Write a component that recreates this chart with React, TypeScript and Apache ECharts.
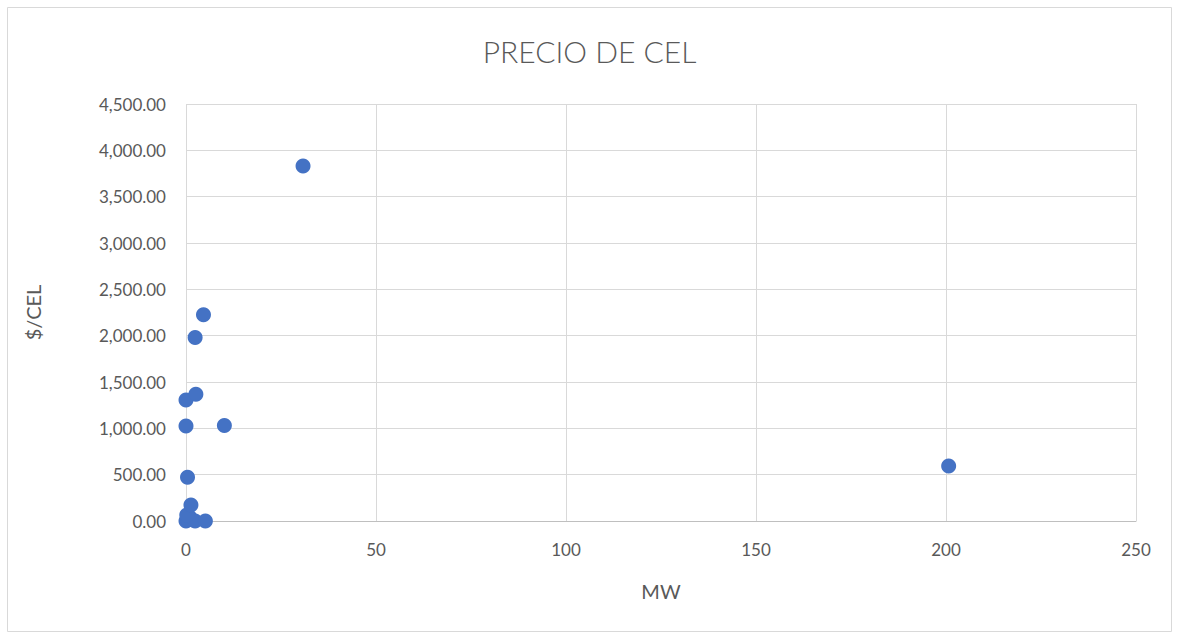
import React, { useEffect, useRef } from "react";
import * as echarts from "echarts";

const mwValues = [0, 0.5, 1.0, 2.4, 5.1, 0.2, 1.3, 0.4, 0, 10.1, 0, 2.6, 2.4, 4.6, 30.8, 200.7];
const priceValues = [0, 15, 40, 0, 0, 65, 173, 472, 1025, 1030, 1306, 1367, 1980, 2225, 3831, 594];
const titleText = "PRECIO DE CEL";
const xName = "MW";
const yName = "$/CEL";

export default function App() {
  const ref = useRef<HTMLDivElement>(null);
  useEffect(() => {
    document.body.style.margin = "0";
    const chart = echarts.init(ref.current!, null, { renderer: "svg" });
    const data = mwValues.map((x, i) => [x, priceValues[i]]);
    const font = "Lato, 'Open Sans', sans-serif";
    chart.setOption({
      animation: false,
      backgroundColor: "#ffffff",
      title: {
        text: titleText,
        left: "center",
        top: 31,
        textStyle: { fontFamily: font, fontSize: 30, fontWeight: 300, color: "#595959" },
      },
      graphic: [
        {
          type: "rect",
          shape: { x: 7.5, y: 7.5, width: 1164, height: 624 },
          style: { fill: "none", stroke: "#d9d9d9", lineWidth: 1 },
          silent: true,
        },
      ],
      grid: { left: 186, right: 43, top: 104, bottom: 117 },
      xAxis: {
        type: "value",
        min: 0,
        max: 250,
        interval: 50,
        name: xName,
        nameLocation: "middle",
        nameGap: 60,
        nameTextStyle: { fontFamily: font, fontSize: 20, color: "#595959" },
        axisLine: { show: true, lineStyle: { color: "#bfbfbf" } },
        axisTick: { show: false },
        axisLabel: { fontFamily: font, fontSize: 17, color: "#595959", margin: 20 },
        splitLine: { show: true, lineStyle: { color: "#d9d9d9" } },
      },
      yAxis: {
        type: "value",
        min: 0,
        max: 4500,
        interval: 500,
        name: yName,
        nameLocation: "middle",
        nameGap: 143,
        nameRotate: 90,
        nameTextStyle: { fontFamily: font, fontSize: 20, color: "#595959" },
        axisLine: { show: false },
        axisTick: { show: false },
        axisLabel: {
          fontFamily: font,
          fontSize: 17,
          color: "#595959",
          margin: 20,
          formatter: (v: number) =>
            v.toLocaleString("en-US", { minimumFractionDigits: 2, maximumFractionDigits: 2 }),
        },
        splitLine: { show: true, lineStyle: { color: "#d9d9d9" } },
      },
      series: [
        {
          type: "scatter",
          data,
          symbolSize: 15,
          itemStyle: { color: "#4472c4", opacity: 1 },
        },
      ],
    });
    return () => chart.dispose();
  }, []);
  return <div ref={ref} style={{ width: 1179, height: 638 }} />;
}
